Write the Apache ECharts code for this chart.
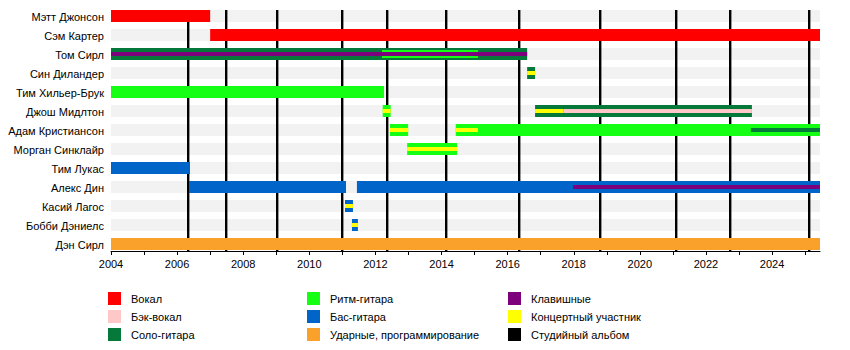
<!DOCTYPE html>
<html><head><meta charset="utf-8">
<script src="https://cdn.jsdelivr.net/npm/echarts@6/dist/echarts.min.js"></script>
<style>html,body{margin:0;padding:0;background:#fff}#c{width:850px;height:350px}</style>
</head><body><div id="c"></div>
<script>
// ---- data ----
const members = ['Мэтт Джонсон','Сэм Картер','Том Сирл','Син Диландер','Тим Хильер-Брук','Джош Мидлтон','Адам Кристиансон','Морган Синклайр','Тим Лукас','Алекс Дин','Касий Лагос','Бобби Дэниелс','Дэн Сирл'];
const START = 2004;
const END = 2025.45;
const yearLabels = [2004,2006,2008,2010,2012,2014,2016,2018,2020,2022,2024];
// primary roles: [member, from, to]
const vocals = [['Мэтт Джонсон',2004,2007.0],['Сэм Картер',2007.0,END]];
const leadGuitar = [['Том Сирл',2004,2016.59],['Син Диландер',2016.59,2016.83],['Джош Мидлтон',2016.83,2023.39]];
const rhythmGuitar = [['Тим Хильер-Брук',2004,2012.26],['Джош Мидлтон',2012.22,2012.46],['Адам Кристиансон',2012.44,2012.99],['Морган Синклайр',2012.96,2014.47],['Адам Кристиансон',2014.43,END]];
const bass = [['Тим Лукас',2004,2006.39],['Алекс Дин',2006.36,2011.11],['Алекс Дин',2011.44,END],['Касий Лагос',2011.08,2011.32],['Бобби Дэниелс',2011.29,2011.47]];
const drums = [['Дэн Сирл',2004,END]];
// secondary roles (stripes)
const rhythmGuitarExtra = [['Том Сирл',2012.2,2015.1]];
const keyboards = [['Том Сирл',2004,2016.59],['Алекс Дин',2017.98,END]];
const backingVocals = [['Джош Мидлтон',2017.68,2023.39]];
const leadGuitarExtra = [['Адам Кристиансон',2023.36,END]];
const touring = [['Син Диландер',2016.59,2016.83],['Джош Мидлтон',2012.22,2012.46],['Джош Мидлтон',2016.83,2017.68],['Адам Кристиансон',2012.44,2012.99],['Адам Кристиансон',2014.43,2015.1],['Морган Синклайр',2012.96,2014.47],['Касий Лагос',2011.08,2011.32],['Бобби Дэниелс',2011.29,2011.47]];
const albums = [2006.33,2007.48,2009.02,2010.99,2012.35,2014.14,2016.34,2018.80,2021.10,2022.73,2025.12];

// ---- build ----
const FONT = '"Liberation Sans", Arial, Helvetica, sans-serif';
function rows(list, level){ return list.map(d => [d[1], d[2], members.indexOf(d[0]), level]); }
function renderSeg(params, api){
  const s = api.coord([api.value(0), api.value(2)]);
  const e = api.coord([api.value(1), api.value(2)]);
  const lvl = api.value(3);
  const h = lvl === 0 ? 12 : (lvl === 1 ? 8 : 4);
  return {type:'rect', shape:{x:s[0], y:Math.floor(s[1]-h/2), width:e[0]-s[0], height:h},
          style:{fill: api.visual('color')}, z2: 10 + lvl*10};
}
function segSeries(name, color, data){
  return {type:'custom', name, renderItem: renderSeg, data, encode:{x:[0,1], y:2},
          itemStyle:{color}, silent:true, clip:false};
}
const roles = [
  ['Вокал','#FF0000', rows(vocals,0)],
  ['Бэк-вокал','#FFC8C8', rows(backingVocals,2)],
  ['Соло-гитара','#05793A', rows(leadGuitar,0).concat(rows(leadGuitarExtra,2))],
  ['Ритм-гитара','#14FF14', rows(rhythmGuitar,0).concat(rows(rhythmGuitarExtra,1))],
  ['Бас-гитара','#0064C8', rows(bass,0)],
  ['Ударные, программирование','#F9A12A', rows(drums,0)],
  ['Клавишные','#7D007D', rows(keyboards,2)],
  ['Концертный участник','#FFFF00', rows(touring,2)]
];
const series = [];
series.push({type:'custom', name:'bg', silent:true, itemStyle:{color:'#F2F2F2'},
  data: members.map((m,i)=>[START, END, i, 0]), encode:{x:[0,1], y:2},
  renderItem(params, api){
    const s = api.coord([api.value(0), api.value(2)]);
    const e = api.coord([api.value(1), api.value(2)]);
    return {type:'rect', shape:{x:s[0], y:Math.floor(s[1]-6), width:e[0]-s[0], height:12}, style:{fill:'#F2F2F2'}, z2:0};
  }});
series.push({type:'custom', name:'Студийный альбом', silent:true, itemStyle:{color:'#000'},
  data: albums.map(a=>[a,0]), encode:{x:0, y:1},
  renderItem(params, api){
    const p = api.coord([api.value(0), 0]);
    const cs = params.coordSys;
    const x = Math.round(p[0]);
    return {type:'rect', shape:{x:x-1, y:Math.floor(p[1]-6), width:2.4, height:(cs.y+cs.height-3)-Math.floor(p[1]-6)}, style:{fill:'#000'}, z2:5};
  }});
roles.forEach(r => series.push(segSeries(r[0], r[1], r[2])));

const legendBase = {orient:'vertical', icon:'rect', itemWidth:13, itemHeight:13, itemGap:5, selectedMode:false, padding:0,
  textStyle:{fontSize:11, color:'#000', fontFamily:FONT, padding:[0,0,0,5]}};
const chart = echarts.init(document.getElementById('c'), null, {renderer:'svg'});
chart.setOption({
  animation:false,
  backgroundColor:'#fff',
  textStyle:{fontFamily:FONT},
  grid:{left:111, right:30, top:7, height:247, containLabel:false},
  xAxis:{type:'value', min:START, max:END, interval:1, offset:-3,
    axisLine:{show:true, lineStyle:{color:'#000', width:1}},
    axisTick:{show:true, length:4, lineStyle:{color:'#000'}},
    axisLabel:{fontSize:11, color:'#000', fontFamily:FONT, margin:7, showMaxLabel:false,
      formatter: v => yearLabels.indexOf(v) >= 0 ? String(v) : ''},
    splitLine:{show:false}},
  yAxis:{type:'category', data:members, inverse:true,
    axisLine:{show:false}, axisTick:{show:false}, splitLine:{show:false},
    axisLabel:{fontSize:11, color:'#000', fontFamily:FONT, margin:7}},
  legend:[
    Object.assign({}, legendBase, {data:['Вокал','Бэк-вокал','Соло-гитара'], left:108, top:292}),
    Object.assign({}, legendBase, {data:['Ритм-гитара','Бас-гитара','Ударные, программирование'], left:307, top:292}),
    Object.assign({}, legendBase, {data:['Клавишные','Концертный участник','Студийный альбом'], left:508, top:292})
  ],
  series
});
</script></body></html>
